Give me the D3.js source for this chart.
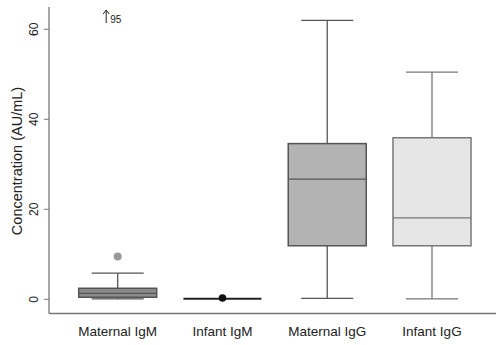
<!DOCTYPE html>
<html>
<head>
<meta charset="utf-8">
<script src="https://cdn.jsdelivr.net/npm/d3@7"></script>
<style>
  body { margin: 0; background: #fff; }
  text { font-family: "Liberation Sans", Arial, sans-serif; fill: #222; }
</style>
</head>
<body>
<svg id="chart" width="496" height="345"></svg>
<script>
// groups and their five-number summaries (AU/mL)
var groups = ["Maternal IgM", "Infant IgM", "Maternal IgG", "Infant IgG"];
var lowWhisker = [0.1, 0.1, 0.2, 0.1];
var q1 = [0.45, 0.1, 11.9, 11.9];
var median = [1.3, 0.1, 26.7, 18.1];
var q3 = [2.45, 0.1, 34.6, 35.9];
var highWhisker = [5.8, 0.1, 62, 50.5];
var fills = ["#8c8c8c", "#222", "#b3b3b3", "#e6e6e6"];
var strokes = ["#555", "#222", "#555", "#777"];
var outliers = [{ g: "Maternal IgM", v: 9.5 }, { g: "Infant IgM", v: 0.3 }];
var offScale = { g: "Maternal IgM", label: "95" };
var yTicks = [0, 20, 40, 60];

var svg = d3.select("#chart");

var x = d3.scalePoint().domain(groups).range([117.7, 432]);
var y = d3.scaleLinear().domain([0, 60]).range([299.3, 29.3]);

var boxW = 78, capW = 52;

// axes
svg.append("line").attr("x1", 49).attr("x2", 49).attr("y1", 7).attr("y2", 313.5)
  .attr("stroke", "#777").attr("stroke-width", 1.3);
svg.append("line").attr("x1", 49).attr("x2", 496).attr("y1", 313.5).attr("y2", 313.5)
  .attr("stroke", "#777").attr("stroke-width", 1.3);

var yAx = svg.append("g").attr("transform", "translate(49,0)")
  .call(d3.axisLeft(y).tickValues(yTicks).tickSize(5).tickPadding(0));
yAx.select(".domain").remove();
yAx.selectAll(".tick line").attr("stroke", "#777");
yAx.selectAll(".tick text")
  .attr("transform", function (d) { return "translate(-15," + y(d) + ") rotate(-90)"; })
  .attr("x", 0).attr("y", 0).attr("dy", "0.35em")
  .attr("text-anchor", "middle")
  .style("font-size", "12px").style("fill", "#222");
yAx.selectAll(".tick").attr("transform", null);
yAx.selectAll(".tick line").attr("transform", function (d) { return "translate(0," + y(d) + ")"; });

svg.append("text")
  .attr("transform", "translate(22,161) rotate(-90)")
  .attr("text-anchor", "middle")
  .style("font-size", "14.5px")
  .text("Concentration (AU/mL)");

svg.selectAll(".xlab").data(groups).enter().append("text")
  .attr("x", function (d) { return x(d); })
  .attr("y", 336)
  .attr("text-anchor", "middle")
  .style("font-size", "13.5px")
  .text(function (d) { return d; });

// boxes
var rows = groups.map(function (g, i) {
  return { g: g, lo: lowWhisker[i], q1: q1[i], med: median[i], q3: q3[i], hi: highWhisker[i], fill: fills[i], stroke: strokes[i] };
});

var box = svg.selectAll(".box").data(rows).enter().append("g");

box.filter(function (d) { return d.hi > d.lo; }).each(function (d) {
  var s = d3.select(this), cx = x(d.g);
  s.append("line").attr("x1", cx).attr("x2", cx).attr("y1", y(d.hi)).attr("y2", y(d.q3))
    .attr("stroke", d.stroke).attr("stroke-width", 1.3);
  s.append("line").attr("x1", cx).attr("x2", cx).attr("y1", y(d.q1)).attr("y2", y(d.lo))
    .attr("stroke", d.stroke).attr("stroke-width", 1.3);
  s.append("line").attr("x1", cx - capW / 2).attr("x2", cx + capW / 2).attr("y1", y(d.hi)).attr("y2", y(d.hi))
    .attr("stroke", d.stroke).attr("stroke-width", 1.3);
  s.append("line").attr("x1", cx - capW / 2).attr("x2", cx + capW / 2).attr("y1", y(d.lo)).attr("y2", y(d.lo))
    .attr("stroke", d.stroke).attr("stroke-width", 1.3);
  s.append("rect").attr("x", cx - boxW / 2).attr("width", boxW)
    .attr("y", y(d.q3)).attr("height", y(d.q1) - y(d.q3))
    .attr("fill", d.fill).attr("stroke", d.stroke).attr("stroke-width", 1.5);
  s.append("line").attr("x1", cx - boxW / 2).attr("x2", cx + boxW / 2).attr("y1", y(d.med)).attr("y2", y(d.med))
    .attr("stroke", d.stroke).attr("stroke-width", 1.3);
});

// collapsed box (all values ~0)
box.filter(function (d) { return d.hi === d.lo; }).append("line")
  .attr("x1", function (d) { return x(d.g) - boxW / 2; })
  .attr("x2", function (d) { return x(d.g) + boxW / 2; })
  .attr("y1", function (d) { return y(d.med); })
  .attr("y2", function (d) { return y(d.med); })
  .attr("stroke", "#222").attr("stroke-width", 2);

svg.selectAll(".out").data(outliers).enter().append("circle")
  .attr("cx", function (d) { return x(d.g); })
  .attr("cy", function (d) { return y(d.v); })
  .attr("r", function (d, i) { return i === 0 ? 4 : 3.8; })
  .attr("fill", function (d, i) { return i === 0 ? "#999" : "#111"; });

// off-scale marker: thin arrow plus the value
var ax = x(offScale.g) - 11.5;
svg.append("path")
  .attr("d", "M" + ax + ",23V10M" + (ax - 3) + ",14L" + ax + ",10L" + (ax + 3) + ",14")
  .attr("fill", "none").attr("stroke", "#222").attr("stroke-width", 1);
svg.append("text")
  .attr("x", ax + 4).attr("y", 23)
  .style("font-size", "10px")
  .text(offScale.label);
</script>
</body>
</html>
